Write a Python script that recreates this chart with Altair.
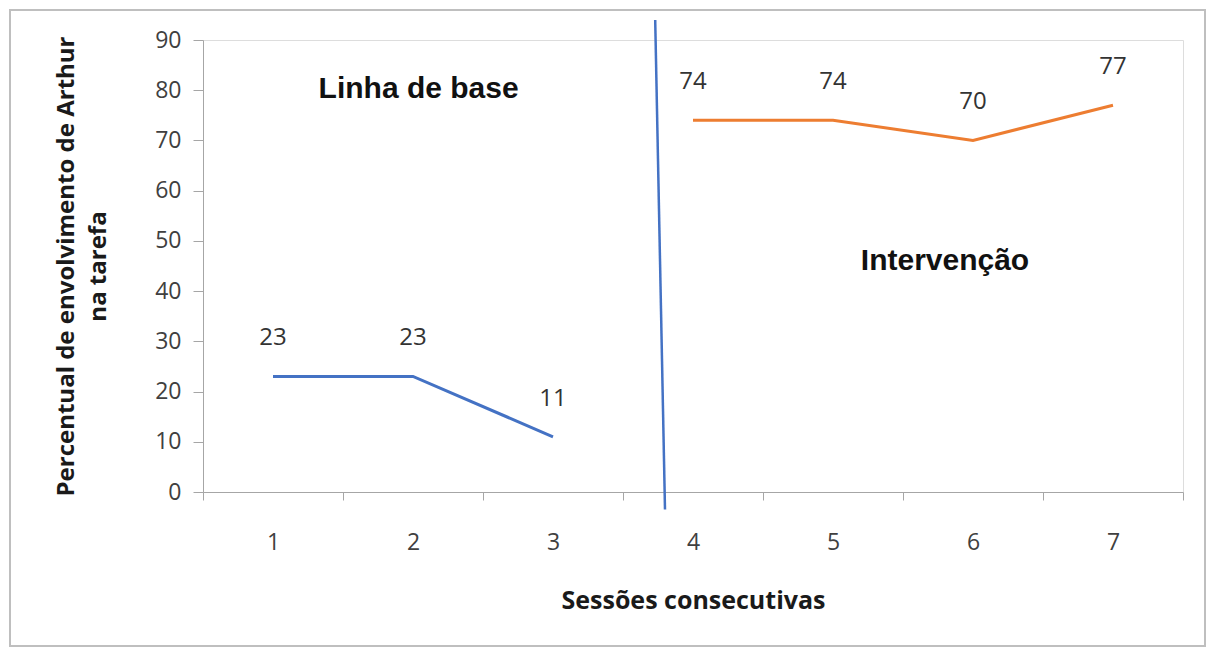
import altair as alt
import pandas as pd

# ---- data ----
base_sessions = [1, 2, 3]
base_values = [23, 23, 11]
int_sessions = [4, 5, 6, 7]
int_values = [74, 74, 70, 77]
divider_x = [3.73, 3.80]
divider_y = [94, -3.5]
phase_labels = ["Linha de base", "Intervenção"]
phase_x = [2.04, 5.8]
phase_y = [80.2, 46]
tick_values = [0.5, 1, 1.5, 2, 2.5, 3, 3.5, 4, 4.5, 5, 5.5, 6, 6.5, 7, 7.5]
y_ticks = [0, 10, 20, 30, 40, 50, 60, 70, 80, 90]

BLUE = "#4472C4"
ORANGE = "#ED7D31"
AXIS_GRAY = "#A6A6A6"
LABEL_FONT = "Open Sans"

base_df = pd.DataFrame({"sessao": base_sessions, "valor": base_values})
int_df = pd.DataFrame({"sessao": int_sessions, "valor": int_values})
div_df = pd.DataFrame({"sessao": divider_x, "valor": divider_y})
phase_df = pd.DataFrame({"sessao": phase_x, "valor": phase_y, "texto": phase_labels})

x_scale = alt.Scale(domain=[0.5, 7.5], nice=False, zero=False)
y_scale = alt.Scale(domain=[0, 90], nice=False)

x_enc = alt.X(
    "sessao:Q",
    scale=x_scale,
    axis=alt.Axis(
        values=tick_values,
        labelExpr="datum.value % 1 == 0 ? datum.value : ''",
        tickOpacity=alt.ExprRef(expr="datum.value % 1 == 0 ? 0 : 1"),
        title="Sessões consecutivas",
        titleFont=LABEL_FONT,
        titleFontSize=25,
        titleFontWeight="bold",
        titleColor="#1a1a1a",
        titlePadding=34,
        labelFont=LABEL_FONT,
        labelFontSize=23,
        labelColor="#404040",
        labelPadding=31,
        tickSize=8,
        tickColor=AXIS_GRAY,
        domainColor=AXIS_GRAY,
        grid=False,
        labelFlush=False,
    ),
)
y_enc = alt.Y(
    "valor:Q",
    scale=y_scale,
    axis=alt.Axis(
        values=y_ticks,
        title=["Percentual de envolvimento de Arthur", "na tarefa"],
        titleFont=LABEL_FONT,
        titleFontSize=24,
        titleFontWeight="bold",
        titleColor="#1a1a1a",
        titlePadding=44,
        titleLineHeight=32,
        labelFont=LABEL_FONT,
        labelFontSize=23,
        labelColor="#404040",
        labelPadding=12,
        tickSize=10,
        tickColor=AXIS_GRAY,
        domainColor=AXIS_GRAY,
        grid=False,
    ),
)

base_line = alt.Chart(base_df).mark_line(color=BLUE, strokeWidth=3).encode(x=x_enc, y=y_enc)
int_line = alt.Chart(int_df).mark_line(color=ORANGE, strokeWidth=3).encode(x="sessao:Q", y="valor:Q")
div_line = alt.Chart(div_df).mark_line(color=BLUE, strokeWidth=2.5, clip=False).encode(
    x="sessao:Q", y="valor:Q"
)

base_text = alt.Chart(base_df).mark_text(
    dy=-38, fontSize=24, font=LABEL_FONT, color="#333333"
).encode(x="sessao:Q", y="valor:Q", text="valor:Q")
int_text = alt.Chart(int_df).mark_text(
    dy=-38, fontSize=24, font=LABEL_FONT, color="#333333"
).encode(x="sessao:Q", y="valor:Q", text="valor:Q")

phase_text = alt.Chart(phase_df).mark_text(
    fontSize=30, font="Liberation Sans", fontWeight="bold", color="#111111"
).encode(x="sessao:Q", y="valor:Q", text="texto:N")

frame = alt.Chart(pd.DataFrame({"k": [0]})).mark_rect(
    fill=None, stroke="#BFBFBF", strokeWidth=2, clip=False
).encode(
    x=alt.value(-193), x2=alt.value(1002), y=alt.value(-30), y2=alt.value(606)
)

chart = (
    alt.layer(frame, base_line, int_line, div_line, base_text, int_text, phase_text)
    .properties(
        width=980,
        height=452,
        autosize=alt.AutoSizeParams(type="none"),
        padding={"left": 195, "top": 32, "right": 24, "bottom": 158},
    )
    .configure_view(stroke=None)
    .configure(background="white")
)

chart.save("out.html", embed_options={"renderer": "svg", "actions": False})
